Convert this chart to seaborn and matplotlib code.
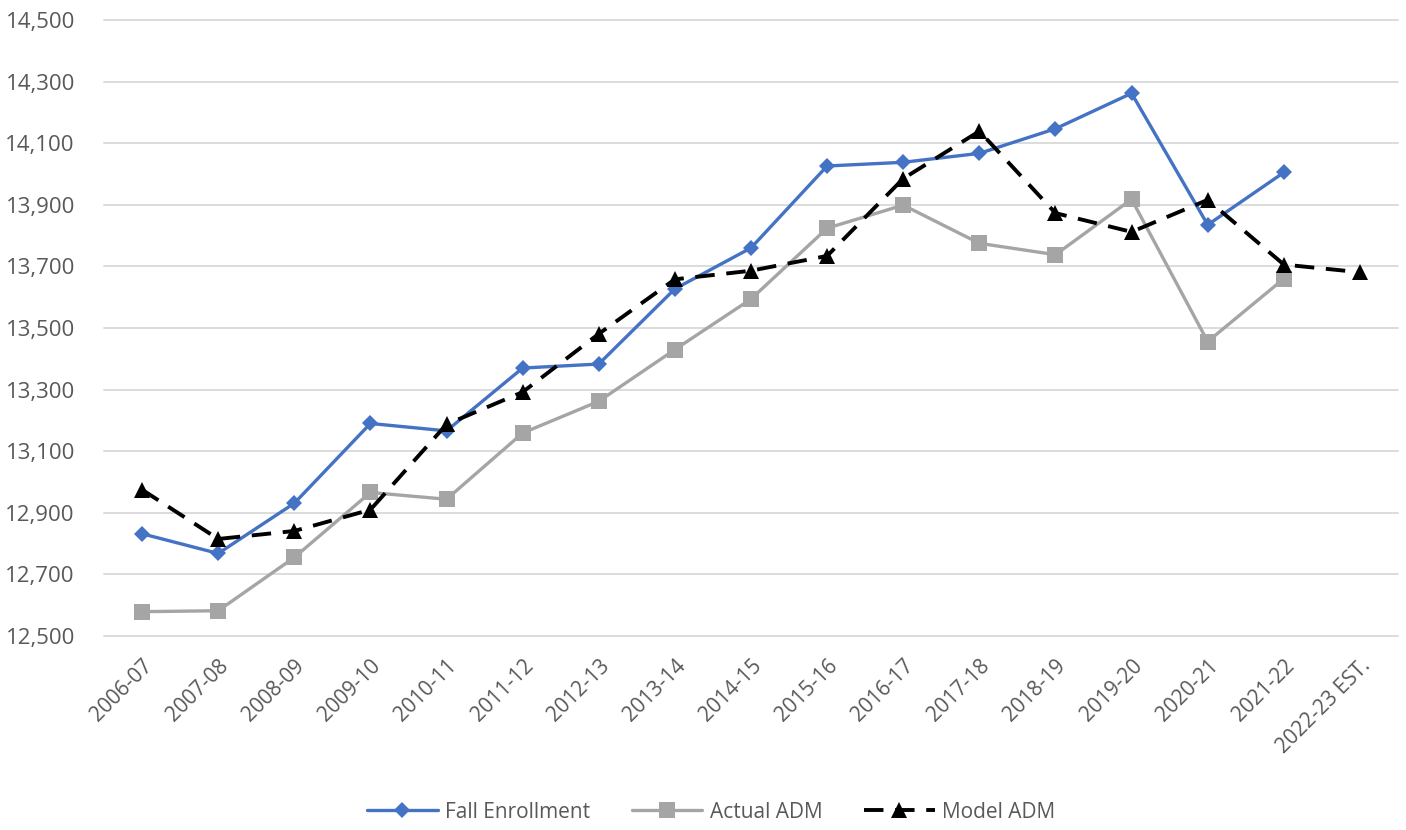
import numpy as np
import pandas as pd
import matplotlib
matplotlib.use("Agg")
import matplotlib.pyplot as plt
from matplotlib.ticker import FuncFormatter
import seaborn as sns

# School years on the category axis
years = ["2006-07", "2007-08", "2008-09", "2009-10", "2010-11", "2011-12",
         "2012-13", "2013-14", "2014-15", "2015-16", "2016-17", "2017-18",
         "2018-19", "2019-20", "2020-21", "2021-22", "2022-23 EST."]

# Enrollment series (no actuals yet for the estimate year)
fall_enrollment = [12832, 12768, 12931, 13190, 13166, 13370, 13383, 13627, 13760,
                   14026, 14038, 14067, 14147, 14262, 13835, 14005]
actual_adm = [12579, 12582, 12755, 12966, 12944, 13159, 13262, 13430, 13594,
              13824, 13899, 13775, 13738, 13918, 13456, 13660]
model_adm = [12975, 12815, 12841, 12910, 13187, 13292, 13481, 13658, 13686,
             13734, 13985, 14139, 13873, 13812, 13916, 13706, 13681]

sns.set_style("white")
plt.rcParams["font.family"] = ["Open Sans", "DejaVu Sans"]

fig = plt.figure(figsize=(14.06, 8.30), dpi=100)
W, H = 1406, 830
ax = fig.add_axes([104 / W, 1 - 636 / H, (1398 - 104) / W, (636 - 20) / H])

pos = np.arange(len(years))

fall_df = pd.DataFrame({"x": pos[:len(fall_enrollment)], "y": fall_enrollment})
actual_df = pd.DataFrame({"x": pos[:len(actual_adm)], "y": actual_adm})
model_df = pd.DataFrame({"x": pos[:len(model_adm)], "y": model_adm})

sns.lineplot(data=fall_df, x="x", y="y", ax=ax, color="#4472C4", lw=2.4,
             marker="D", markersize=8.5, markeredgewidth=0,
             label="Fall Enrollment", zorder=3)
sns.lineplot(data=actual_df, x="x", y="y", ax=ax, color="#A5A5A5", lw=2.4,
             marker="s", markersize=11.5, markeredgewidth=0,
             label="Actual ADM", zorder=2)
sns.lineplot(data=model_df, x="x", y="y", ax=ax, color="black", lw=2.8,
             marker="^", markersize=12, markeredgewidth=0,
             dashes=(5, 3), label="Model ADM", zorder=4)

ax.set_xlim(-0.5, len(years) - 0.5)
ax.set_ylim(12500, 14500)
ax.set_yticks(np.arange(12500, 14501, 200))
ax.yaxis.set_major_formatter(FuncFormatter(lambda v, p: f"{v:,.0f}"))
ax.set_xticks(pos)
ax.set_xticklabels(years, rotation=45, ha="right", va="top",
                   rotation_mode="anchor")
ax.set_xlabel("")
ax.set_ylabel("")

ax.grid(axis="y", color="#D9D9D9", lw=1.3, clip_on=False)
ax.grid(axis="x", visible=False)
for s in ax.spines.values():
    s.set_visible(False)
ax.tick_params(axis="y", length=0, pad=21, labelsize=16, labelcolor="#595959")
ax.tick_params(axis="x", length=0, pad=14, labelsize=15, labelcolor="#595959")

handles, labels = ax.get_legend_handles_labels()
ax.get_legend().remove()
fig.legend(handles, labels, loc="center", bbox_to_anchor=(711 / W, 1 - 812 / H),
           ncol=3, frameon=False, fontsize=15, handlelength=3.4,
           handletextpad=0.35, columnspacing=2.0, labelcolor="#595959")

fig.savefig("out.png", dpi=100)
